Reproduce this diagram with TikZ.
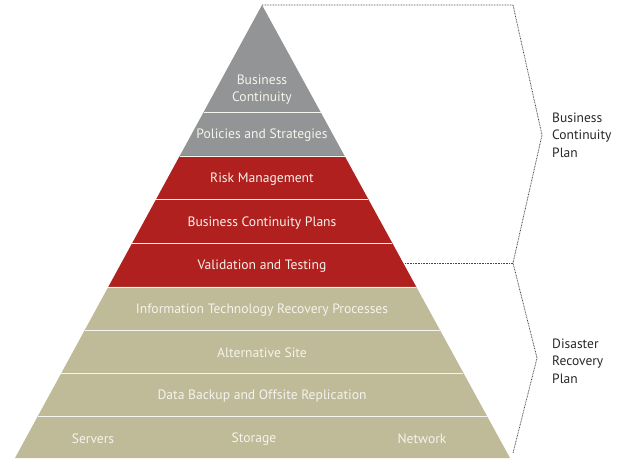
\documentclass[tikz,border=0pt]{standalone}
\usepackage{fontspec}
\setmainfont{PT Sans}
\usetikzlibrary{calc}
\definecolor{pgray}{RGB}{147,148,150}
\definecolor{pred}{RGB}{176,32,30}
\definecolor{ptan}{RGB}{191,186,152}
\definecolor{ptext}{RGB}{245,243,236}
\definecolor{plabel}{RGB}{40,40,40}
\definecolor{pdot}{RGB}{70,70,70}
\begin{document}
\begin{tikzpicture}[x=1pt,y=-1pt,
  band/.style={font=\fontsize{13.6}{17}\selectfont, text=ptext, inner sep=0pt},
  sidelabel/.style={font=\fontsize{13.5}{17.5}\selectfont, text=plabel, align=left, anchor=west, inner sep=0pt},
  sep/.style={draw=white!85!ptan, line width=0.9pt},
  dotline/.style={draw=pdot, line width=0.8pt, dash pattern=on 0.8pt off 0.8pt}]
\useasboundingbox (0,0) rectangle (627,460);
\coordinate (apex) at (262,5);
\coordinate (bl) at (15,458);
\coordinate (br) at (510,458);
% colour groups
\fill[pgray] (apex) -- ($(apex)!0.3333!(bl)$) -- ($(apex)!0.3333!(br)$) -- cycle;
\fill[pred] ($(apex)!0.3333!(bl)$) -- ($(apex)!0.6225!(bl)$) -- ($(apex)!0.6225!(br)$) -- ($(apex)!0.3333!(br)$) -- cycle;
\fill[ptan] ($(apex)!0.6225!(bl)$) -- (bl) -- (br) -- ($(apex)!0.6225!(br)$) -- cycle;
% separators
\foreach \t in {0.2362,0.3333,0.4283,0.5254,0.6225,0.7174,0.8124,0.9073}
  \draw[sep] ($(apex)!\t!(bl)$) -- ($(apex)!\t!(br)$);
% labels in pyramid
\node[band, align=center] (bc) at (262,90) {Business\\Continuity};
\node[band] (ps) at (262,135) {Policies and Strategies};
\node[band] (rm) at (262,179) {Risk Management};
\node[band] (bcp) at (262,223) {Business Continuity Plans};
\node[band] (vt) at (262,266) {Validation and Testing};
\node[band] (itrp) at (262,310) {Information Technology Recovery Processes};
\node[band] (as) at (262,353) {Alternative Site};
\node[band] (db) at (262,396) {Data Backup and Offsite Replication};
\node[band] (srv) at (93,439) {Servers};
\node[band] (sto) at (254,439) {Storage};
\node[band] (net) at (422,439) {Network};
% brackets
\coordinate (t1) at (513,5);
\coordinate (tip1) at (542,135);
\coordinate (m1) at (513,263);
\coordinate (vte) at (405,263);
\coordinate (tip2) at (537,358);
\coordinate (b1) at (513,453);
\draw[dotline] (apex) -- (t1) -- (tip1) -- (m1) -- (tip2) -- (b1);
\draw[dotline] (vte) -- (m1);
\node[sidelabel] (bcplan) at (552,135) {Business\\Continuity\\Plan};
\node[sidelabel] (drplan) at (552,361) {Disaster\\Recovery\\Plan};
\end{tikzpicture}
\end{document}
